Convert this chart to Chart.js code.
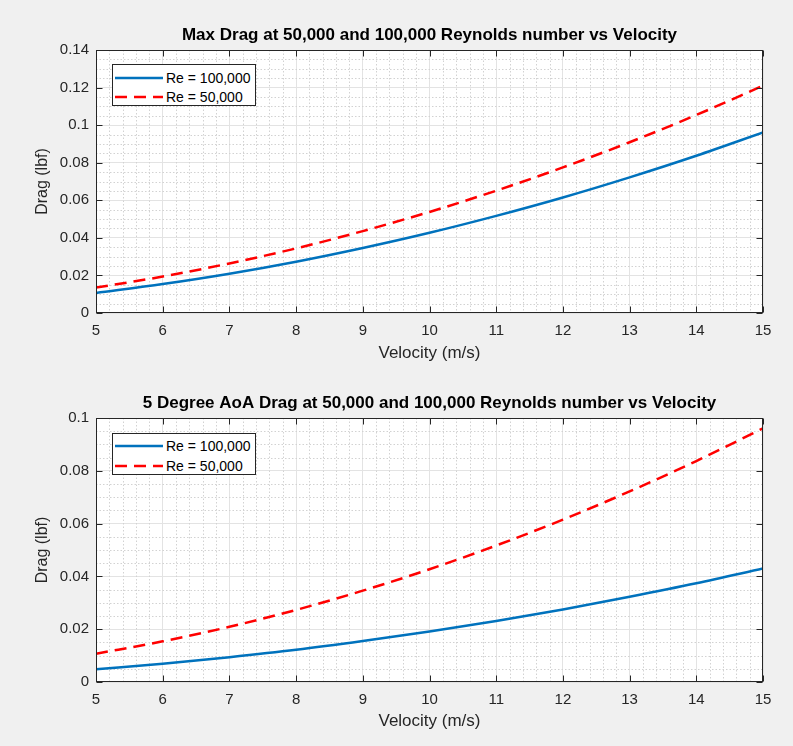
<!DOCTYPE html>
<html>
<head>
<meta charset="utf-8">
<script src="https://cdn.jsdelivr.net/npm/chart.js@4"></script>
<style>
  html, body { margin: 0; padding: 0; background: #f0f0f0; }
  #wrap { position: relative; width: 793px; height: 746px; overflow: hidden; font-family: "Liberation Sans", Arial, Helvetica, sans-serif; }
  .cv { position: absolute; left: 0; width: 793px; height: 373px; }
  .legend { position: absolute; left: 112px; width: 142px; height: 40px; background: #fff; border: 1px solid #262626; font-size: 14px; color: #000; }
  .row { position: absolute; left: 0; height: 18px; width: 142px; }
  .row svg { position: absolute; left: 2px; top: 0; }
  .row span { position: absolute; left: 53px; top: 0; line-height: 18px; white-space: nowrap; }
</style>
</head>
<body>
<div id="wrap">
  <canvas id="c1" class="cv" style="top:0px" width="793" height="373"></canvas>
  <canvas id="c2" class="cv" style="top:373px" width="793" height="373"></canvas>
  <div class="legend" style="top:64px">
    <div class="row" style="top:4px"><svg width="48" height="18"><line x1="0" y1="9" x2="48" y2="9" stroke="#0072BD" stroke-width="2.5"/></svg><span id="l1a"></span></div>
    <div class="row" style="top:23px"><svg width="48" height="18"><line x1="0" y1="9" x2="48" y2="9" stroke="#FF0000" stroke-width="2.5" stroke-dasharray="12 7"/></svg><span id="l1b"></span></div>
  </div>
  <div class="legend" style="top:433px">
    <div class="row" style="top:3px"><svg width="48" height="18"><line x1="0" y1="9" x2="48" y2="9" stroke="#0072BD" stroke-width="2.5"/></svg><span id="l2a"></span></div>
    <div class="row" style="top:23px"><svg width="48" height="18"><line x1="0" y1="9" x2="48" y2="9" stroke="#FF0000" stroke-width="2.5" stroke-dasharray="12 7"/></svg><span id="l2b"></span></div>
  </div>
</div>
<script>
// ---- data ----
const velocity = [5, 6, 7, 8, 9, 10, 11, 12, 13, 14, 15];
const maxDragRe100k = [0.0107, 0.0154, 0.0209, 0.0273, 0.0346, 0.0427, 0.0517, 0.0615, 0.0722, 0.0837, 0.0961];
const maxDragRe50k  = [0.0135, 0.0194, 0.0264, 0.0344, 0.0436, 0.0538, 0.0651, 0.0775, 0.0909, 0.1054, 0.1210];
const aoaDragRe100k = [0.0048, 0.0069, 0.0094, 0.0122, 0.0155, 0.0191, 0.0231, 0.0275, 0.0323, 0.0374, 0.0430];
const aoaDragRe50k  = [0.0107, 0.0154, 0.0209, 0.0273, 0.0346, 0.0427, 0.0517, 0.0615, 0.0722, 0.0837, 0.0961];

const seriesNames = ['Re = 100,000', 'Re = 50,000'];
const titles = ['Max Drag at 50,000 and 100,000 Reynolds number vs Velocity',
                '5 Degree AoA Drag at 50,000 and 100,000 Reynolds number vs Velocity'];
const xAxisTitle = 'Velocity (m/s)';
const yAxisTitle = 'Drag (lbf)';

const xTickValues = [5, 6, 7, 8, 9, 10, 11, 12, 13, 14, 15];
const xTickLabels = ['5', '6', '7', '8', '9', '10', '11', '12', '13', '14', '15'];
const yTickValues1 = [0, 0.02, 0.04, 0.06, 0.08, 0.1, 0.12, 0.14];
const yTickLabels1 = ['0', '0.02', '0.04', '0.06', '0.08', '0.1', '0.12', '0.14'];
const yTickValues2 = [0, 0.02, 0.04, 0.06, 0.08, 0.1];
const yTickLabels2 = ['0', '0.02', '0.04', '0.06', '0.08', '0.1'];

document.getElementById('l1a').textContent = seriesNames[0];
document.getElementById('l1b').textContent = seriesNames[1];
document.getElementById('l2a').textContent = seriesNames[0];
document.getElementById('l2b').textContent = seriesNames[1];

const FONT = '"Liberation Sans", Arial, Helvetica, sans-serif';
const AX = '#262626';

const matlabPlugin = {
  id: 'matlab',
  beforeDraw(chart) {
    const {ctx, chartArea: a} = chart;
    ctx.save();
    ctx.fillStyle = '#ffffff';
    ctx.fillRect(a.left, a.top, a.right - a.left, a.bottom - a.top);
    ctx.restore();
  },
  beforeDatasetsDraw(chart, args, opts) {
    const {ctx, chartArea: a, scales: {x, y}} = chart;
    ctx.save();
    ctx.strokeStyle = '#d2d2d2';
    ctx.lineWidth = 1;
    ctx.setLineDash([1.5, 2]);
    const near = (v, arr) => arr.some(t => Math.abs(t - v) < 1e-9);
    for (let i = 0; ; i++) {
      const v = x.min + i * opts.xMinor;
      if (v > x.max + 1e-9) break;
      if (near(v, xTickValues)) continue;
      const px = Math.round(x.getPixelForValue(v)) + 0.5;
      ctx.beginPath(); ctx.moveTo(px, a.top); ctx.lineTo(px, a.bottom); ctx.stroke();
    }
    for (let i = 0; ; i++) {
      const v = y.min + i * opts.yMinor;
      if (v > y.max + 1e-9) break;
      if (near(v, opts.yMajor)) continue;
      const py = Math.round(y.getPixelForValue(v)) + 0.5;
      ctx.beginPath(); ctx.moveTo(a.left, py); ctx.lineTo(a.right, py); ctx.stroke();
    }
    ctx.restore();
  },
  afterDatasetsDraw(chart, args, opts) {
    const {ctx, chartArea: a, scales: {x, y}} = chart;
    ctx.save();
    ctx.strokeStyle = AX;
    ctx.lineWidth = 1;
    ctx.setLineDash([]);
    const L = Math.round(a.left) + 0.5, R = Math.round(a.right) - 0.5;
    const T = Math.round(a.top) + 0.5, B = Math.round(a.bottom) - 0.5;
    ctx.strokeRect(L, T, R - L, B - T);
    const tl = 6;
    ctx.beginPath();
    xTickValues.forEach(v => {
      const px = Math.round(x.getPixelForValue(v)) + 0.5;
      ctx.moveTo(px, B); ctx.lineTo(px, B - tl);
      ctx.moveTo(px, T); ctx.lineTo(px, T + tl);
    });
    opts.yMajor.forEach(v => {
      const py = Math.round(y.getPixelForValue(v)) + 0.5;
      ctx.moveTo(L, py); ctx.lineTo(L + tl, py);
      ctx.moveTo(R, py); ctx.lineTo(R - tl, py);
    });
    ctx.stroke();
    ctx.restore();
  }
};

function makeChart(id, title, s1, s2, yMax, yVals, yLabels, geo) {
  const pts = arr => velocity.map((v, i) => ({x: v, y: arr[i]}));
  return new Chart(document.getElementById(id), {
    type: 'line',
    data: {
      datasets: [
        { label: seriesNames[0], data: pts(s1), borderColor: '#0072BD', borderWidth: 2.5,
          pointRadius: 0, tension: 0.4, cubicInterpolationMode: 'monotone', fill: false },
        { label: seriesNames[1], data: pts(s2), borderColor: '#FF0000', borderWidth: 2.5,
          borderDash: [12, 7], pointRadius: 0, tension: 0.4, cubicInterpolationMode: 'monotone', fill: false }
      ]
    },
    options: {
      responsive: false,
      animation: false,
      events: [],
      layout: { padding: { left: 0, right: 30, top: 0, bottom: 0 } },
      plugins: {
        legend: { display: false },
        tooltip: { enabled: false },
        title: {
          display: true, text: title, color: '#000', fullSize: false,
          font: { family: FONT, size: 17, weight: 'bold', lineHeight: 1.2 },
          padding: { top: geo.titleTop, bottom: geo.titleBottom }
        },
        matlab: { xMinor: 0.2, yMinor: 0.005, yMajor: yVals }
      },
      scales: {
        x: {
          type: 'linear', min: 5, max: 15,
          afterBuildTicks: s => { s.ticks = xTickValues.map(v => ({value: v})); },
          afterFit: s => { s.height = geo.xHeight; },
          ticks: { color: AX, padding: geo.xTickPad, font: { family: FONT, size: 15 },
                   maxRotation: 0, autoSkip: false,
                   callback: (v) => { const i = xTickValues.indexOf(v); return i >= 0 ? xTickLabels[i] : ''; } },
          grid: { color: '#e3e3e3', lineWidth: 1, drawTicks: false },
          border: { display: false },
          title: { display: true, text: xAxisTitle, color: AX,
                   font: { family: FONT, size: 17, lineHeight: 1.2 },
                   padding: { top: 0, bottom: geo.xTitlePad } }
        },
        y: {
          type: 'linear', min: 0, max: yMax,
          afterBuildTicks: s => { s.ticks = yVals.map(v => ({value: v})); },
          afterFit: s => { s.width = 96; },
          ticks: { color: AX, padding: 7, font: { family: FONT, size: 15 },
                   callback: (v) => { const i = yVals.findIndex(t => Math.abs(t - v) < 1e-9); return i >= 0 ? yLabels[i] : ''; } },
          grid: { color: '#e3e3e3', lineWidth: 1, drawTicks: false },
          border: { display: false },
          title: { display: true, text: yAxisTitle, color: AX,
                   font: { family: FONT, size: 16, lineHeight: 1.2 },
                   padding: { top: 33, bottom: 0 } }
        }
      }
    },
    plugins: [matlabPlugin]
  });
}

makeChart('c1', titles[0], maxDragRe100k, maxDragRe50k, 0.14, yTickValues1, yTickLabels1,
  { titleTop: 25, titleBottom: 4.6, xHeight: 60, xTickPad: 9, xTitlePad: 9 });
makeChart('c2', titles[1], aoaDragRe100k, aoaDragRe50k, 0.1, yTickValues2, yTickLabels2,
  { titleTop: 20.5, titleBottom: 4.1, xHeight: 64, xTickPad: 9, xTitlePad: 14 });
</script>
</body>
</html>
